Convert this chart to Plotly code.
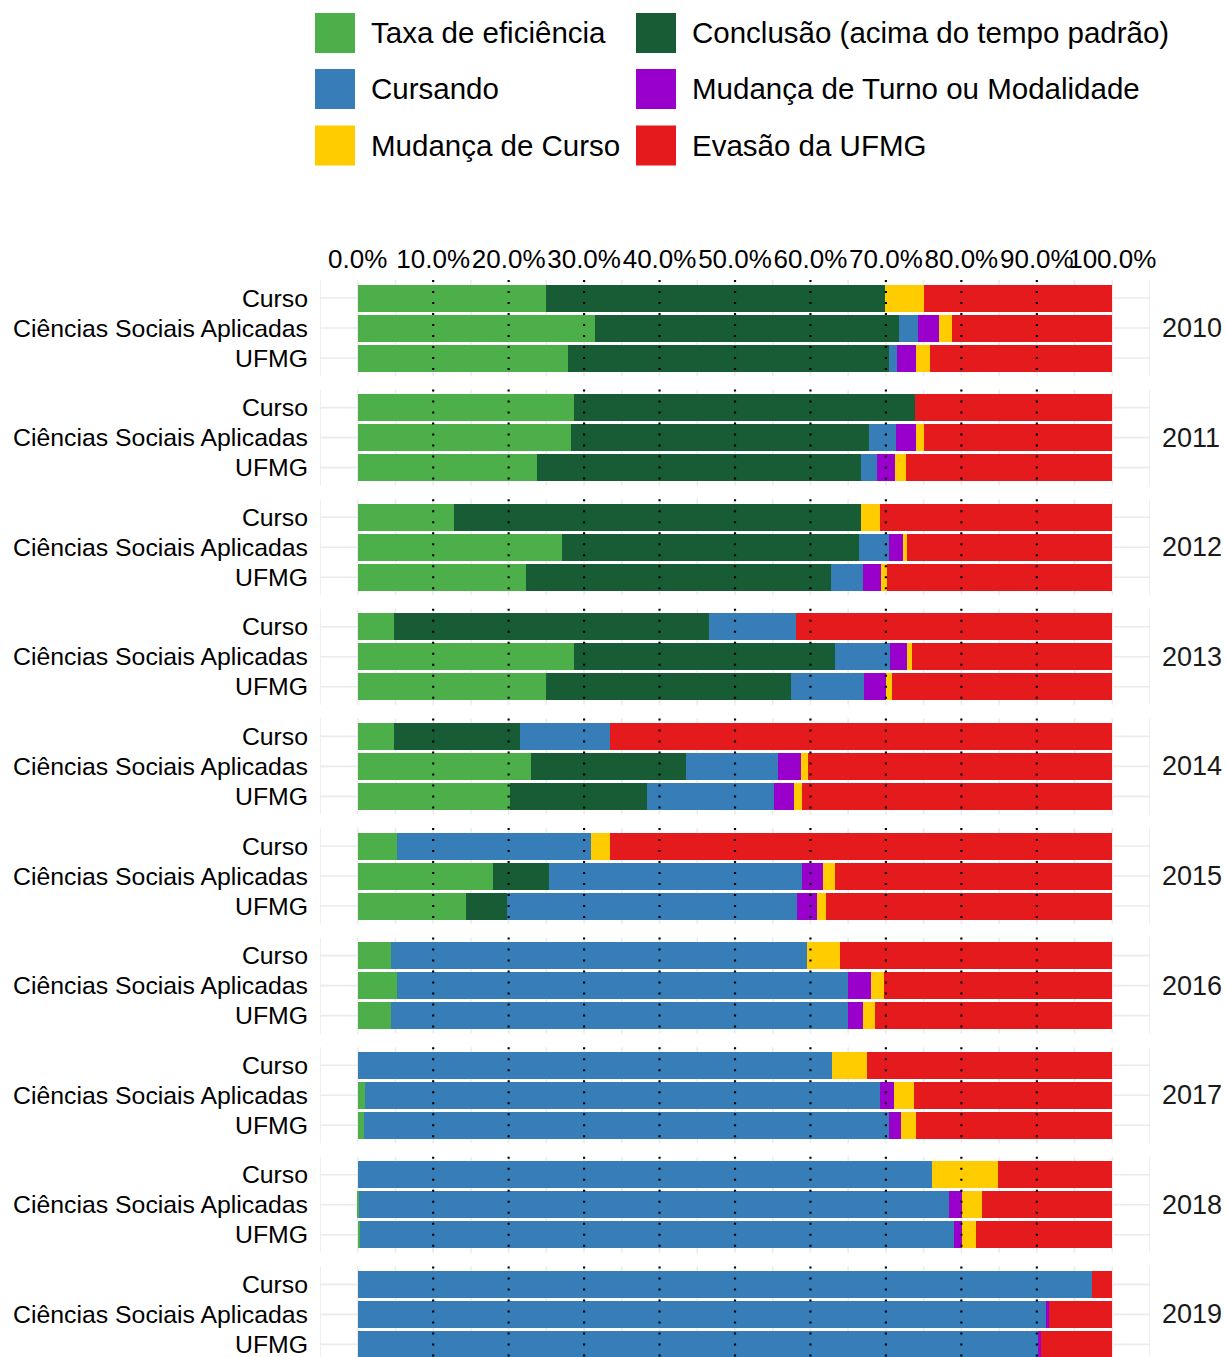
import plotly.graph_objects as go

# ---------------- data ----------------
years = [2010, 2011, 2012, 2013, 2014, 2015, 2016, 2017, 2018, 2019]
groups = ["Curso", "Ciências Sociais Aplicadas", "UFMG"]

series_names = [
    "Taxa de eficiência",
    "Conclusão (acima do tempo padrão)",
    "Cursando",
    "Mudança de Turno ou Modalidade",
    "Mudança de Curso",
    "Evasão da UFMG",
]
series_colors = ["#4DAF4A", "#175C35", "#377EB8", "#9A00CC", "#FFCC00", "#E41A1C"]

# values in %, order: for each year -> Curso, CSA, UFMG
taxa_eficiencia = [25.0, 31.5, 27.9, 28.6, 28.2, 23.8, 12.8, 27.1, 22.3, 4.8, 28.6, 25.0,
                   4.8, 23.0, 20.2, 5.2, 17.9, 14.3, 4.4, 5.2, 4.4, 0.0, 0.9, 0.8,
                   0.0, 0.15, 0.3, 0.0, 0.0, 0.0]
conclusao = [44.9, 40.2, 42.5, 45.2, 39.5, 42.9, 53.9, 39.3, 40.4, 41.8, 34.7, 32.4,
             16.7, 20.5, 18.2, 0.0, 7.5, 5.5, 0.0, 0.0, 0.0, 0.0, 0.0, 0.0,
             0.0, 0.0, 0.0, 0.0, 0.0, 0.0]
cursando = [0.0, 2.5, 1.1, 0.0, 3.6, 2.1, 0.0, 4.0, 4.3, 11.5, 7.2, 9.7,
            11.9, 12.2, 16.8, 25.7, 33.5, 38.4, 55.1, 59.8, 60.6, 62.9, 68.3, 69.6,
            76.1, 78.25, 78.7, 97.3, 91.2, 90.2]
mudanca_turno = [0.0, 2.9, 2.5, 0.0, 2.7, 2.4, 0.0, 1.9, 2.4, 0.0, 2.3, 2.9,
                 0.0, 3.0, 2.6, 0.0, 2.7, 2.7, 0.0, 3.0, 2.0, 0.0, 1.9, 1.6,
                 0.0, 1.7, 1.1, 0.0, 0.4, 0.3]
mudanca_curso = [5.1, 1.7, 1.9, 0.0, 1.0, 1.5, 2.5, 0.5, 0.8, 0.0, 0.6, 0.8,
                 0.0, 1.0, 1.1, 2.5, 1.7, 1.1, 4.4, 1.8, 1.5, 4.6, 2.6, 2.0,
                 8.7, 2.6, 1.8, 0.0, 0.0, 0.0]
evasao = [25.0, 21.2, 24.1, 26.2, 25.0, 27.3, 30.8, 27.2, 29.8, 41.9, 26.6, 29.2,
          66.6, 40.3, 41.1, 66.6, 36.7, 38.0, 36.1, 30.2, 31.5, 32.5, 26.3, 26.0,
          15.2, 17.3, 18.1, 2.7, 8.4, 9.5]

all_series = [taxa_eficiencia, conclusao, cursando, mudanca_turno, mudanca_curso, evasao]

x_ticks = [0, 10, 20, 30, 40, 50, 60, 70, 80, 90, 100]
x_ticklabels = ["0.0%", "10.0%", "20.0%", "30.0%", "40.0%", "50.0%",
                "60.0%", "70.0%", "80.0%", "90.0%", "100.0%"]
ref_lines = [10, 20, 30, 40, 50, 60, 70, 80, 90]

# ---------------- layout geometry ----------------
W, H = 1226, 1357
ML, MT, MB = 320, 280, 0
MR = W - 1150
PW, PH = W - ML - MR, H - MT - MB
UNIT_PX = 30.0                # px per category step
PANEL_PITCH = 109.6 / UNIT_PX # panel spacing in category units
EXPAND = 0.6
XMIN, XMAX = -5, 105

ypos = [k * PANEL_PITCH + j for k in range(len(years)) for j in range(len(groups))]
ylabels = [g for _ in years for g in groups]
y_top = -EXPAND
y_bot = y_top + PH / UNIT_PX

FONT = "Liberation Sans, Arial, Helvetica, sans-serif"

fig = go.Figure()

# ---- stacked bars ----
for name, color, vals in zip(series_names, series_colors, all_series):
    fig.add_trace(go.Bar(
        x=vals, y=ypos, orientation="h", name=name, width=0.9,
        marker=dict(color=color, line=dict(width=0)),
        showlegend=False,
        hovertemplate=name + ": %{x:.1f}%<extra></extra>",
    ))

# ---- dotted reference lines per panel (above bars) ----
dx, dy = [], []
for k in range(len(years)):
    t = k * PANEL_PITCH - EXPAND
    b = k * PANEL_PITCH + (len(groups) - 1) + EXPAND
    for xv in ref_lines:
        dx += [xv, xv, None]
        dy += [t, b, None]
fig.add_trace(go.Scatter(x=dx, y=dy, mode="lines",
                         line=dict(color="black", width=2.2, dash="2px,9px"),
                         hoverinfo="skip", showlegend=False))

# ---- background grid per panel (below bars) ----
shapes = []
path = []
for k in range(len(years)):
    t = k * PANEL_PITCH - EXPAND
    b = k * PANEL_PITCH + (len(groups) - 1) + EXPAND
    for xv in range(XMIN, XMAX + 1, 5):
        path.append(f"M{xv},{t:.4f}L{xv},{b:.4f}")
    for j in range(len(groups)):
        yv = k * PANEL_PITCH + j
        path.append(f"M{XMIN},{yv:.4f}L{XMAX},{yv:.4f}")
shapes.append(dict(type="path", xref="x", yref="y", path="".join(path),
                   line=dict(color="#EBEBEB", width=1.6), layer="below"))

# ---- year strip labels ----
annotations = []
for k, yr in enumerate(years):
    annotations.append(dict(
        x=1, xref="paper", xshift=10, xanchor="left",
        y=k * PANEL_PITCH + 1, yref="y", yanchor="middle",
        text=str(yr), showarrow=False,
        font=dict(family=FONT, size=27, color="#1A1A1A"),
    ))

# ---- manual legend (page px -> paper) ----
def px2x(px):
    return (px - ML) / PW

def py2y(py):
    return (H - MB - py) / PH

leg_cols_x = [315, 636]
leg_rows_y = [33, 89, 145.5]
box = 40
for i, (name, color) in enumerate(zip(series_names, series_colors)):
    r, c = divmod(i, 2)
    x0 = leg_cols_x[c]
    yc = leg_rows_y[r]
    shapes.append(dict(type="rect", xref="paper", yref="paper",
                       x0=px2x(x0), x1=px2x(x0 + box),
                       y0=py2y(yc + box / 2), y1=py2y(yc - box / 2),
                       fillcolor=color, line=dict(width=0), layer="above"))
    annotations.append(dict(
        x=px2x(x0 + box + 14), xref="paper", xanchor="left",
        y=py2y(yc), yref="paper", yanchor="middle",
        text=name, showarrow=False,
        font=dict(family=FONT, size=29.5, color="black"),
    ))

fig.update_layout(
    width=W, height=H,
    margin=dict(l=ML, r=MR, t=MT, b=MB, pad=0),
    paper_bgcolor="white", plot_bgcolor="white",
    barmode="stack", bargap=0,
    showlegend=False,
    font=dict(family=FONT, color="black"),
    shapes=shapes,
    annotations=annotations,
    xaxis=dict(
        range=[XMIN, XMAX], side="top",
        tickvals=x_ticks, ticktext=x_ticklabels, tickangle=0,
        tickfont=dict(family=FONT, size=26, color="black"),
        showgrid=False, zeroline=False, showline=False,
        ticks="outside", ticklen=1, tickcolor="rgba(0,0,0,0)",
        fixedrange=True,
    ),
    yaxis=dict(
        range=[y_bot, y_top],
        tickvals=ypos, ticktext=ylabels,
        tickfont=dict(family=FONT, size=24.8, color="black"),
        showgrid=False, zeroline=False, showline=False,
        ticks="outside", ticklen=6, tickcolor="rgba(0,0,0,0)",
        ticklabeloverflow="allow",
        fixedrange=True,
    ),
)

post = ("document.documentElement.style.margin='0';"
        "document.documentElement.style.overflow='hidden';"
        "document.body.style.margin='0';"
        "document.body.style.overflow='hidden';")

fig.write_html("out.html", post_script=post, config={"displayModeBar": False})
